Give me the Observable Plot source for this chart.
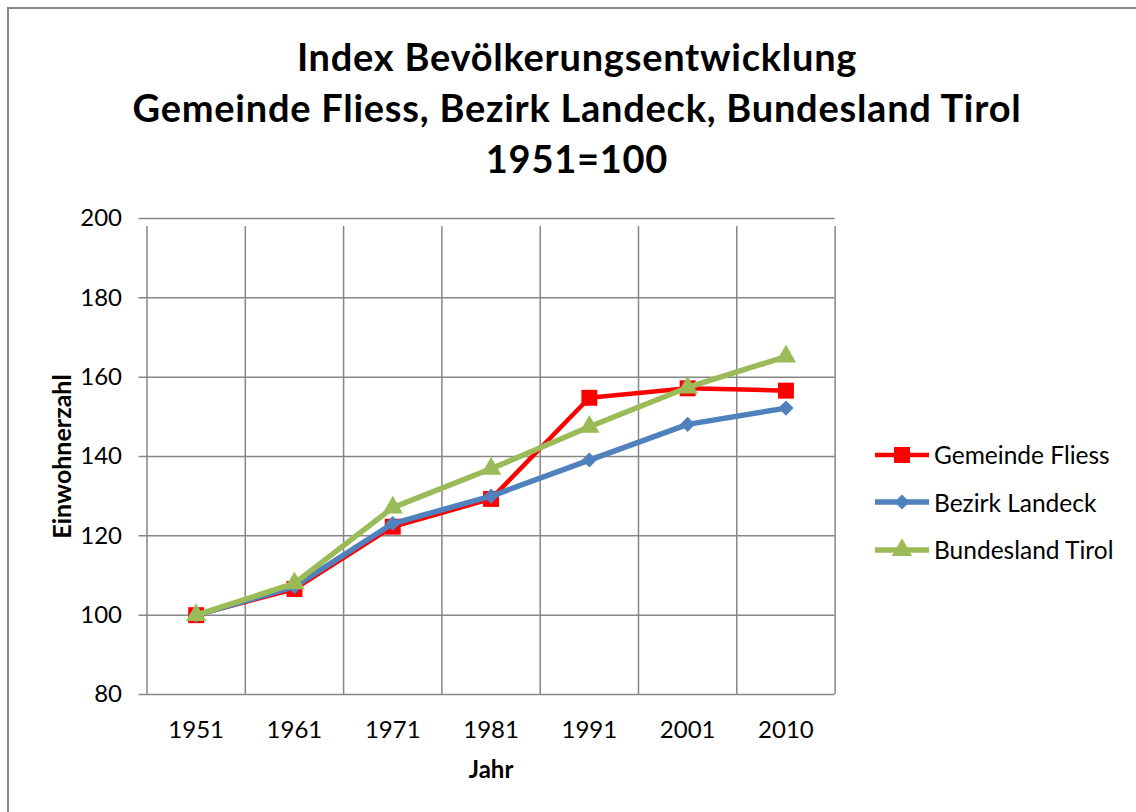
<!DOCTYPE html>
<html><head><meta charset="utf-8">
<script src="https://cdn.jsdelivr.net/npm/d3@7"></script>
<script src="https://cdn.jsdelivr.net/npm/@observablehq/plot@0.6"></script>
<style>
html,body{margin:0;padding:0;background:#fff;overflow:hidden}
#wrap{position:relative;width:1136px;height:812px;font-family:Lato,"Open Sans",sans-serif;overflow:hidden}
#frame{position:absolute;left:7px;top:7px;width:1300px;height:1000px;border-left:2px solid #868686;border-top:2px solid #868686}
#title{position:absolute;left:0;width:1154px;top:31px;text-align:center;font-weight:bold;font-size:38px;letter-spacing:0.75px;line-height:51px;color:#000}
#chart{position:absolute;left:0;top:0}
#legend{position:absolute;left:873px;top:431px}
.item{display:flex;align-items:center;height:47.5px;font-size:24.5px;color:#000}
.item svg{margin-right:3px}
</style></head>
<body><div id="wrap"><div id="frame"></div><div id="chart"></div>
<div id="title">Index Bevölkerungsentwicklung<br>Gemeinde Fliess, Bezirk Landeck, Bundesland Tirol<br>1951=100</div>
<div id="legend"></div></div>
<script>
const years = ["1951","1961","1971","1981","1991","2001","2010"];
const fliess = [100, 106.6, 122.3, 129.3, 154.8, 157.2, 156.6];
const landeck = [100, 107.2, 123.1, 130.0, 139.1, 148.1, 152.2];
const tirol = [100, 108.0, 127.1, 136.9, 147.5, 157.4, 165.2];
const seriesNames = ["Gemeinde Fliess", "Bezirk Landeck", "Bundesland Tirol"];
const seriesValues = [fliess, landeck, tirol];
const seriesColors = ["#FF0000", "#4F81BD", "#9BBB59"];
const seriesSymbols = ["square", "diamond2", "triangle"];
const seriesR = [9, 6.8, 7.6];
const seriesWidth = [4.5, 5.5, 5.5];
const yTicks = [80, 100, 120, 140, 160, 180, 200];
const gridColor = "#868686";

const idx = d3.range(years.length);
const boundaries = d3.range(-0.5, years.length, 1);

const marks = [
  Plot.ruleY(yTicks, {x1: -0.5, x2: years.length - 0.5, stroke: gridColor, strokeWidth: 1.5, insetLeft: -8}),
  Plot.ruleX(boundaries, {y1: 80, y2: 200, stroke: gridColor, strokeWidth: 1.5, insetBottom: -8}),
  Plot.axisY(yTicks, {tickSize: 0, tickPadding: 25, fontSize: 24, fill: "#000", label: null}),
  Plot.axisX(idx, {tickSize: 0, tickPadding: 26, tickFormat: i => years[i], fontSize: 24, fill: "#000", label: null}),
  Plot.text(["Jahr"], {frameAnchor: "bottom", dy: 83, text: d => d, fontWeight: "bold", fontSize: 24, fill: "#000"}),
  Plot.text(["Einwohnerzahl"], {frameAnchor: "left", textAnchor: "middle", dx: -84, rotate: -90, text: d => d, fontWeight: "bold", fontSize: 25, fill: "#000"})
];
seriesNames.forEach((name, s) => {
  const rows = idx.map(i => ({series: name, i, value: seriesValues[s][i]}));
  marks.push(Plot.lineY(rows, {x: "i", y: "value", stroke: seriesColors[s], strokeWidth: seriesWidth[s]}));
  marks.push(Plot.dot(rows, {x: "i", y: "value", symbol: () => seriesSymbols[s], r: seriesR[s], fill: seriesColors[s], stroke: "none"}));
});

const chart = Plot.plot({
  width: 1136, height: 812,
  marginLeft: 146.5, marginRight: 301.4, marginTop: 218, marginBottom: 118,
  x: {type: "linear", domain: [-0.5, years.length - 0.5]},
  y: {type: "linear", domain: [80, 200]},
  style: {fontFamily: "Lato, 'Open Sans', sans-serif", fontSize: "24px", background: "transparent", color: "#000"},
  marks
});
document.getElementById("chart").appendChild(chart);

// legend
const legend = d3.select("#legend");
const symMap = {square: d3.symbolSquare, diamond2: d3.symbolDiamond2, triangle: d3.symbolTriangle};
seriesNames.forEach((name, s) => {
  const item = legend.append("div").attr("class", "item");
  const svg = item.append("svg").attr("width", 58).attr("height", 24);
  svg.append("line").attr("x1", 2).attr("x2", 56).attr("y1", 12).attr("y2", 12)
    .attr("stroke", seriesColors[s]).attr("stroke-width", seriesWidth[s]);
  svg.append("path").attr("transform", "translate(29,12)")
    .attr("d", d3.symbol(symMap[seriesSymbols[s]], Math.PI * seriesR[s] * seriesR[s])())
    .attr("fill", seriesColors[s]);
  item.append("span").text(name);
});
</script></body></html>
